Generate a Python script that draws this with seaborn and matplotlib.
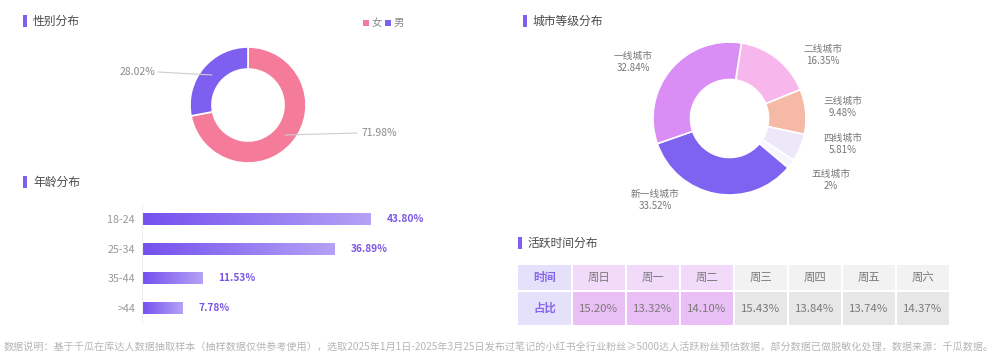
import numpy as np
import pandas as pd
import seaborn as sns
import matplotlib.pyplot as plt
from matplotlib.patches import Rectangle
from matplotlib.colors import LinearSegmentedColormap

# ---- data ----
gender_labels = ['女', '男']
gender_values = [71.98, 28.02]

age_groups = ['18-24', '25-34', '35-44', '>44']
age_values = [43.80, 36.89, 11.53, 7.78]

city_labels = ['二线城市', '三线城市', '四线城市', '五线城市', '新一线城市', '一线城市']
city_values = [16.35, 9.48, 5.81, 2.00, 33.52, 32.84]

week_days = ['周日', '周一', '周二', '周三', '周四', '周五', '周六']
active_share = [15.20, 13.32, 14.10, 15.43, 13.84, 13.74, 14.37]

footer = ('数据说明：基于千瓜在库达人数据抽取样本（抽样数据仅供参考使用），选取2025年1月1日-2025年3月25日'
          '发布过笔记的小红书全行业粉丝≥5000达人活跃粉丝预估数据，部分数据已做脱敏化处理，数据来源：千瓜数据。')

# ---- style ----
sns.set_theme(style='white')
plt.rcParams['font.family'] = ['Noto Sans CJK SC', 'DejaVu Sans']

W, H = 993, 358
PURPLE = '#7E5FEF'
PINK = '#F47C9A'
GRAY_TXT = '#8A8A8A'
city_colors = ['#F8B7EC', '#F6B9A5', '#ECE8FA', '#F7F5FD', '#7E62F0', '#DA8EF5']
city_label_pos = [(823, 55), (843, 107), (843, 144), (831, 180), (655, 200), (633, 62)]

fig = plt.figure(figsize=(W / 100, H / 100), dpi=100)
fig.patch.set_facecolor('white')

# overlay axes in pixel units (y from bottom)
ov = fig.add_axes([0, 0, 1, 1])
Y = lambda py: H - py


def section_title(x, y, text):
    ov.add_patch(Rectangle((x, Y(y) - 6), 3.5, 12, color=PURPLE, lw=0))
    ov.text(x + 10, Y(y), text, fontsize=8.5, color='#4A4A4A', va='center', ha='left')


# ---- gender donut ----
ov.pie(gender_values, colors=[PINK, PURPLE], startangle=90, counterclock=False,
       center=(248, Y(105)), radius=58,
       wedgeprops=dict(width=22, edgecolor='white', linewidth=1.2))
ov.plot([158, 212], [Y(72), Y(75)], color='#CCCCCC', lw=0.8)
ov.plot([285, 357], [Y(135), Y(133)], color='#CCCCCC', lw=0.8)
ov.text(155, Y(72), f'{gender_values[1]:.2f}%', fontsize=7.5, color=GRAY_TXT, ha='right', va='center')
ov.text(361, Y(133), f'{gender_values[0]:.2f}%', fontsize=7.5, color=GRAY_TXT, ha='left', va='center')
# legend
for lx, lab, col in [(363, gender_labels[0], PINK), (385, gender_labels[1], PURPLE)]:
    ov.add_patch(Rectangle((lx, Y(23) - 3), 6, 6, color=col, lw=0))
    ov.text(lx + 9, Y(23), lab, fontsize=7.5, color=GRAY_TXT, va='center', ha='left')

# ---- city donut ----
ov.pie(city_values, colors=city_colors, startangle=81, counterclock=False,
       center=(729.5, Y(118.5)), radius=76.5,
       wedgeprops=dict(width=37.5, edgecolor='white', linewidth=1.2))
for (px, py), lab, val in zip(city_label_pos, city_labels, city_values):
    ov.text(px, Y(py), f'{lab}\n{val:g}%', fontsize=7, color='#777777',
            ha='center', va='center', linespacing=1.25)

# ---- titles ----
section_title(23, 21, '性别分布')
section_title(523, 21, '城市等级分布')
section_title(23, 182, '年龄分布')
section_title(518, 243, '活跃时间分布')

# ---- active time table ----
col_x = [518] + [573 + 54 * i for i in range(len(week_days))]
col_w = [53] + [52] * len(week_days)
rows = [(265, 25), (292, 33)]
hdr_colors = ['#E6E1FB'] + ['#F2DAFA'] * 3 + ['#F2F2F2'] * 4
val_colors = ['#E6E1FB'] + ['#E9BFF6'] * 3 + ['#E7E7E7'] * 4
hdr_text = ['时间'] + week_days
val_text = ['占比'] + [f'{v:.2f}%' for v in active_share]
for r, (ry, rh) in enumerate(rows):
    fills = hdr_colors if r == 0 else val_colors
    texts = hdr_text if r == 0 else val_text
    for c in range(len(col_x)):
        ov.add_patch(Rectangle((col_x[c], Y(ry + rh)), col_w[c], rh, color=fills[c], lw=0))
        first = c == 0
        ov.text(col_x[c] + col_w[c] / 2, Y(ry + rh / 2), texts[c], fontsize=8.2,
                color='#8466EE' if first else '#7A7A7A',
                fontweight='bold' if first else 'normal', ha='center', va='center')

# ---- footer ----
ov.text(4, Y(348), footer, fontsize=7.25, color='#B5B5B5', ha='left', va='center')

ov.set_xlim(0, W)
ov.set_ylim(0, H)
ov.set_aspect('auto')
ov.set_axis_off()

# ---- age bar chart ----
px_per_unit = 229 / 43.8
xmax = 60
bx0, btop, bh = 142, 204, 119
bw = xmax * px_per_unit
ax = fig.add_axes([bx0 / W, (H - btop - bh) / H, bw / W, bh / H])
ax.patch.set_alpha(0)
df = pd.DataFrame({'age': age_groups, 'share': age_values})
sns.barplot(data=df, y='age', x='share', orient='h', width=0.4, color=PURPLE, ax=ax)

cmap = LinearSegmentedColormap.from_list('bar', ['#7450EE', '#B5A2F6'])
grad = np.linspace(0, 1, 256).reshape(1, -1)
for p in ax.patches:
    x0, y0 = p.get_x(), p.get_y()
    w, h = p.get_width(), p.get_height()
    p.set_facecolor('none')
    im = ax.imshow(grad, cmap=cmap, extent=[x0, x0 + w, y0 + h, y0], aspect='auto', zorder=2)
    im.set_clip_path(p)
for i, v in enumerate(age_values):
    ax.text(v + 3.0, i, f'{v:.2f}%', color='#7A55E6', fontsize=7.3, fontweight='bold',
            va='center', ha='left')
ax.set_xlim(0, xmax)
ax.set_ylim(3.5, -0.5)
ax.set_xlabel('')
ax.set_ylabel('')
ax.set_xticks([])
ax.tick_params(axis='y', length=0, pad=5, labelsize=7.7, labelcolor='#999999')
for s in ['top', 'right', 'bottom']:
    ax.spines[s].set_visible(False)
ax.spines['left'].set_color('#EEEEEE')
ax.spines['left'].set_linewidth(0.8)

fig.savefig('out.png', dpi=100, facecolor='white')
